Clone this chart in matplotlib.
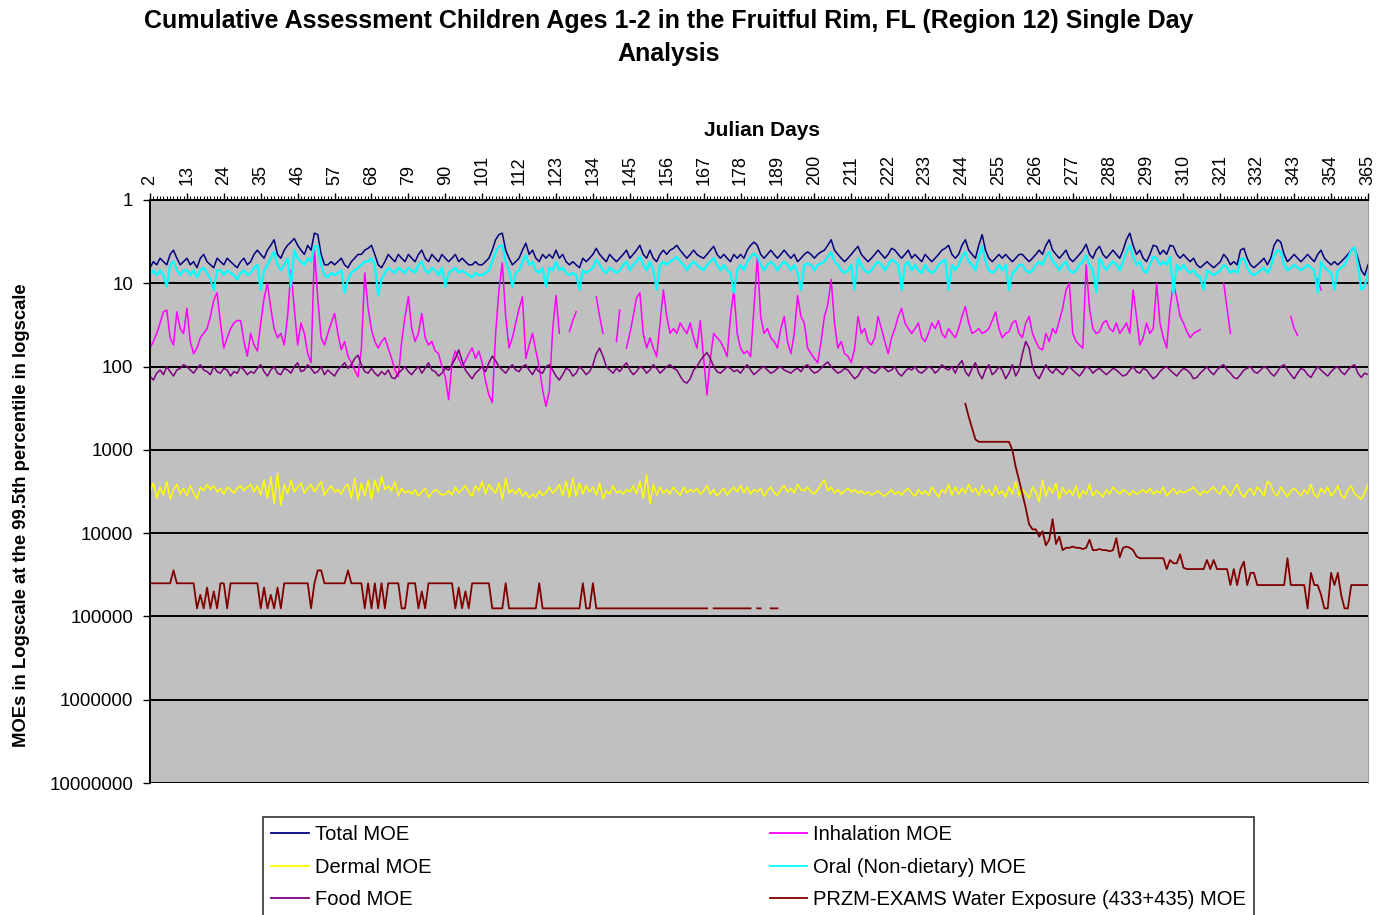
import numpy as np
import matplotlib
matplotlib.use('Agg')
import matplotlib.pyplot as plt
from matplotlib.ticker import FixedLocator, MultipleLocator, NullLocator
from matplotlib.lines import Line2D

N = None  # missing day (gap in the line)

# categories
days = list(range(2, 366))
day_ticks = list(range(2, 366, 11))
y_ticks = [1, 10, 100, 1000, 10000, 100000, 1000000, 10000000]
y_tick_labels = ['1', '10', '100', '1000', '10000', '100000', '1000000', '10000000']

# series values, one row = 11 days (2-12, 13-23, ... 354-364, 365)
total_moe = [
    6.5, 5.5, 6, 5, 5.5, 6, 4.5, 4, 5, 6, 5.5,
    5, 6, 5.5, 6.5, 5, 4.5, 5.5, 6, 6.5, 5, 5.5,
    6, 5, 5.5, 6, 6.5, 5.5, 5, 6, 5.5, 4.5, 4,
    4.5, 5, 4, 3.5, 3, 4.5, 5, 4, 3.5, 3.2, 2.9,
    3.5, 4, 4.5, 3.5, 4, 2.5, 2.6, 4.5, 6, 6, 5.5,
    6, 5.5, 5, 6, 6.5, 5.5, 5, 4.5, 4.5, 4, 3.8,
    3.5, 4.5, 6, 6.5, 5.5, 4.5, 5, 5.5, 4.5, 5, 5.5,
    4.5, 5, 5.5, 4.5, 4, 5, 5.5, 4.5, 5, 5.5, 4.5,
    5, 5.5, 5, 4.5, 5.5, 5, 5.5, 6, 6, 5.5, 6,
    6, 5.5, 5, 4, 3, 2.6, 2.5, 4, 5, 6, 5.5,
    5, 4, 3.3, 4.5, 4, 5, 5.5, 4.5, 5, 4.5, 5,
    4, 5, 4.5, 5.5, 6, 5.5, 6, 6.5, 5, 5.5, 5,
    4.5, 3.8, 4.5, 5, 5.5, 4.5, 5, 5.5, 5, 4.5, 4,
    5, 4.5, 4, 3.5, 4.5, 5, 4, 5, 5.5, 4.5, 4,
    4.5, 4, 3.8, 3.5, 4, 4.5, 5, 4.5, 4, 4.5, 4.8,
    5, 4.5, 4, 3.6, 4.5, 5, 4.5, 5, 5.5, 4.5, 5,
    4.5, 5, 4, 3.5, 3.2, 3.5, 4.5, 5, 4.5, 4, 4.5,
    5, 4.5, 4, 4.5, 5, 4.5, 5.5, 5, 4.5, 4.2, 4.5,
    5, 4.5, 4.2, 4, 3.5, 3, 4, 4.5, 5, 5.5, 5,
    4.5, 4, 3.6, 4.5, 5, 5.5, 5, 4.5, 4, 4.5, 5,
    4.5, 3.8, 4, 4.5, 5, 4.5, 4, 5, 4.5, 5, 5.5,
    4.5, 5, 5.5, 5, 4.5, 4, 3.8, 3.5, 4.5, 5, 4.5,
    3.5, 3, 4, 4.5, 5, 3.5, 2.6, 4, 5, 5.5, 5,
    4.5, 5, 4.5, 5, 5.5, 5, 4.5, 4.5, 5, 5.5, 5,
    4.5, 4, 4.5, 3.5, 3, 4, 4.5, 5, 4.5, 4, 5,
    5.5, 5, 4.5, 4, 3.4, 4.5, 5, 4, 3.6, 4.5, 5,
    4.5, 4, 4.5, 5, 4, 3, 2.5, 3.5, 4.5, 4, 5,
    5.5, 4.5, 3.5, 3.6, 4.5, 4, 4.5, 3.5, 3.6, 4.5, 5,
    4.5, 5, 5.5, 5, 6, 6.5, 6, 5.5, 6, 6.5, 6,
    5.5, 4.5, 5, 6, 5.5, 6, 4, 3.8, 5, 6, 6.5,
    6, 5.5, 5, 6, 5, 3.5, 3, 3.2, 4.5, 5.5, 5,
    4.5, 5, 5.5, 5, 4.5, 5, 5.5, 4.5, 4, 5, 5.5,
    6, 5.5, 6, 5.5, 5, 4.5, 4, 3.8, 5, 7, 8,
    6,
]

inhalation_moe = [
    60, 50, 40, 30, 22, 21, 45, 55, 22, 35, 40,
    20, 50, 70, 60, 45, 40, 35, 25, 16, 13, 30,
    60, 45, 35, 30, 28, 28, 50, 75, 40, 55, 65,
    30, 15, 10, 20, 35, 45, 40, 55, 25, 7, 20,
    55, 30, 40, 70, 90, 4, 15, 45, 55, 40, 30,
    23, 40, 63, 50, 75, 90, 110, 133, 60, 7.5, 20,
    36, 50, 60, 50, 45, 60, 80, 110, 133, 50, 25,
    14.5, 35, 50, 40, 23, 45, 55, 50, 65, 70, 100,
    133, 250, 90, 65, 80, 100, 85, 70, 60, 80, 65,
    90, 150, 220, 270, 40, 12, 5.7, 25, 60, 45, 30,
    20, 14.5, 80, 55, 40, 65, 100, 190, 300, 200, 36,
    14, 40, N, N, 38, 28, 22, N, N, N, N,
    N, 14.5, 25, 40, N, N, N, 50, 21, N, 60,
    40, 25, 15, 13, 40, 60, 45, 60, 76, 30, 12,
    25, 40, 35, 40, 30, 35, 40, 30, 45, 60, 28,
    80, 220, 80, 40, 45, 50, 60, 76, 25, 12, 40,
    60, 70, 65, 76, 20, 4.8, 25, 40, 35, 45, 50,
    60, 35, 25, 50, 70, 40, 14, 25, 30, 60, 70,
    80, 90, 50, 25, 18, 9, 30, 60, 50, 70, 75,
    90, 60, 25, 40, 35, 50, 55, 45, 25, 35, 50,
    70, 45, 35, 25, 20, 30, 35, 40, 35, 30, 45,
    50, 40, 30, 35, 28, 40, 45, 35, 40, 45, 35,
    25, 19, 30, 40, 38, 35, 40, 38, 35, 28, 22,
    35, 45, 40, 38, 30, 28, 40, 45, 30, 25, 40,
    50, 60, 63, 40, 50, 35, 40, 28, 20, 12, 10,
    40, 50, 55, 60, 6, 20, 35, 40, 38, 30, 28,
    35, 38, 30, 40, 35, 30, 40, 12, 25, 55, 45,
    30, 40, 35, 10, 30, 45, 60, 20, 10, 15, 25,
    30, 38, 45, 40, 38, 36, N, N, N, N, N,
    N, 10, 20, 40, N, N, N, N, N, N, N,
    N, N, N, N, N, N, N, N, N, N, 25,
    35, 42, N, N, N, N, N, 9, 12, N, N,
    N, N, N, N, N, N, N, N, N, N, N,
    N,
]

dermal_moe = [
    3200, 2500, 3800, 2800, 3500, 2400, 3900, 3000, 2600, 3400, 2900,
    3600, 2700, 3300, 3900, 2800, 3100, 2600, 3000, 2700, 3200, 2900,
    3400, 2800, 3000, 3300, 2900, 2700, 3100, 2800, 2600, 3200, 2700,
    3500, 2300, 3800, 2100, 4400, 1900, 4600, 2600, 3400, 2300, 3200,
    2800, 2500, 3300, 2900, 2600, 3200, 2800, 2400, 3500, 3000, 2700,
    3200, 3000, 3400, 2800, 2600, 3800, 2200, 4000, 2500, 3600, 2300,
    3900, 2300, 3200, 2100, 3000, 2700, 3100, 2400, 3600, 2900, 3300,
    3100, 3400, 3000, 3600, 3200, 2900, 3700, 3300, 3000, 3200, 3500,
    3400, 3100, 3500, 2800, 3300, 3000, 2700, 3200, 3600, 2700, 3100,
    2400, 3400, 2600, 3000, 3300, 2500, 3900, 2200, 3300, 3000, 3400,
    2900, 3600, 3200, 3800, 3400, 3700, 3100, 3500, 3300, 2800, 3300,
    3000, 2600, 3500, 2400, 3700, 2200, 3600, 2500, 3400, 2700, 3200,
    2800, 3500, 2500, 3900, 3100, 3400, 2700, 3300, 3100, 3400, 3000,
    3200, 2700, 3400, 2400, 3800, 2000, 4400, 2600, 3500, 2800, 3300,
    3000, 3400, 2800, 3200, 3500, 2800, 3300, 3000, 3200, 2900, 3400,
    3100, 2700, 3400, 3000, 3600, 3200, 2900, 3500, 3100, 2800, 3200,
    2700, 3300, 2800, 3400, 3000, 3200, 2900, 3600, 3100, 2800, 3300,
    3500, 3000, 2700, 3200, 2900, 3300, 2600, 3000, 3100, 2800, 3200,
    3400, 3000, 2600, 2300, 3100, 2800, 3300, 3000, 3400, 3100, 2900,
    3200, 3000, 3300, 3100, 3400, 3200, 3500, 3300, 3100, 3400, 3600,
    3300, 3000, 3400, 3200, 3500, 3100, 2900, 3300, 3600, 3000, 3400,
    3100, 3500, 2800, 3200, 3700, 3000, 3300, 2600, 3500, 2800, 3400,
    2900, 3300, 2600, 3200, 2900, 3500, 2700, 3300, 3000, 3600, 2700,
    3400, 3100, 3700, 2800, 3400, 2400, 3600, 3000, 3300, 3800, 2800,
    3200, 4200, 2300, 3600, 2800, 3300, 2500, 3900, 2800, 3400, 3000,
    3500, 2700, 3800, 3100, 3400, 2600, 3600, 3100, 3300, 3700, 3000,
    3400, 2800, 3100, 3400, 3000, 3200, 3500, 3100, 3400, 3200, 3000,
    3300, 2900, 3400, 3100, 3300, 2800, 3600, 3200, 2900, 3400, 3100,
    3300, 3100, 3000, 2800, 3200, 3500, 3100, 3300, 3000, 2800, 3200,
    3400, 2700, 3100, 3600, 3000, 2600, 3300, 3700, 3200, 2900, 3500,
    2800, 3100, 3600, 2400, 2600, 3300, 3600, 2800, 3200, 3700, 3100,
    2900, 3200, 3600, 3000, 3400, 2600, 3500, 3700, 2900, 3300, 2800,
    3600, 3200, 2700, 3500, 3800, 3000, 2700, 3400, 3600, 3900, 3300,
    2600,
]

oral_moe = [
    8, 7, 8, 7, 8, 11, 6, 5.5, 7, 8, 7,
    7, 8, 7, 8.5, 7, 6.5, 7.5, 9, 12, 7, 7,
    8, 7, 7.5, 8, 9, 7.5, 7, 8, 7.5, 6.5, 6,
    12, 7, 6, 5, 4.2, 6, 7, 6, 5, 11, 4,
    5, 5.5, 6, 5, 5.5, 3.6, 3.6, 6, 8, 8.5, 7.5,
    8, 7.5, 7, 13, 9, 7.5, 7, 6.5, 6, 5.5, 5.5,
    5, 6, 14, 9, 7.5, 6.5, 7, 7.5, 6.5, 7, 7.5,
    6.5, 7, 7.5, 6, 5.5, 7, 7.5, 6.5, 7, 8, 6.5,
    11, 7.5, 7, 6.5, 7.5, 7, 7.5, 8, 8.5, 7.5, 8,
    8, 7.5, 7, 5.5, 4.2, 3.6, 3.5, 5.5, 7, 11, 7.5,
    7, 5.5, 4.6, 6, 5.5, 7, 7.5, 6.5, 11, 6.5, 7,
    5.5, 7, 6.5, 7.5, 8, 7.5, 8, 12, 7, 7.5, 7,
    6.5, 5.2, 6, 7, 7.5, 6.5, 7, 7.5, 7, 6, 5.5,
    7, 6, 5.5, 4.8, 6, 7, 5.5, 7, 12, 6, 5.5,
    6, 5.5, 5.2, 4.8, 5.5, 6, 7, 6, 5.5, 6, 6.5,
    7, 6, 5.5, 5, 6, 7, 6, 7, 7.5, 13, 7,
    6, 7, 5.5, 4.8, 4.4, 4.8, 6, 7, 6, 5.5, 6,
    7, 6, 5.5, 6, 7, 6, 7.5, 12, 6, 5.8, 6,
    7, 6, 5.8, 5.5, 4.8, 4.2, 5.5, 6, 7, 7.5, 7,
    6, 12, 5, 6, 7, 7.5, 7, 6, 5.5, 6, 7,
    6, 5.2, 5.5, 6, 12, 6, 5.5, 7, 6, 7, 7.5,
    6, 7, 7.5, 7, 6, 5.5, 5.2, 12, 6, 7, 6,
    4.8, 4.2, 5.5, 6, 7, 4.8, 3.6, 5.5, 7, 7.5, 7,
    6, 7, 6, 12, 7.5, 7, 6, 6, 7, 7.5, 7,
    6, 5.5, 6, 4.8, 4.2, 5.5, 6, 7, 6, 5.5, 7,
    7.5, 7, 6, 5.5, 4.6, 6, 7, 13, 5, 6, 7,
    6, 5.5, 6, 7, 5.5, 4.2, 3.5, 4.8, 6, 5.5, 7,
    7.5, 6, 4.8, 5, 6, 5.5, 6, 4.8, 13, 6, 7,
    6, 7, 7.5, 7, 8, 8.5, 12, 7, 7.5, 8, 7.5,
    7, 6, 6.5, 7.5, 7, 7.5, 5.2, 5, 6.5, 7.5, 8,
    7.5, 7, 6.5, 7.5, 6.5, 4.6, 4, 4.2, 6, 7, 6.5,
    6, 6.5, 7, 6.5, 6, 6.5, 7, 13, 5.5, 6.5, 7,
    7.5, 12, 7, 6.5, 6, 5, 4, 3.7, 6, 12, 11,
    7.5,
]

food_moe = [
    130, 145, 120, 110, 125, 100, 115, 130, 110, 105, 95,
    100, 110, 120, 105, 95, 110, 115, 125, 100, 115, 120,
    105, 110, 130, 115, 120, 100, 110, 125, 115, 120, 105,
    95, 115, 130, 110, 100, 120, 125, 105, 110, 120, 100,
    90, 115, 110, 95, 105, 120, 115, 100, 125, 110, 120,
    130, 110, 100, 90, 105, 95, 80, 73, 95, 115, 120,
    105, 120, 130, 115, 125, 110, 135, 140, 120, 110, 100,
    115, 125, 110, 100, 120, 105, 90, 110, 115, 130, 120,
    105, 110, 95, 80, 63, 85, 110, 125, 140, 120, 110,
    100, 115, 90, 75, 85, 100, 110, 120, 105, 95, 110,
    115, 100, 95, 110, 125, 105, 115, 120, 100, 95, 110,
    130, 145, 125, 105, 110, 130, 120, 100, 110, 125, 115,
    95, 70, 60, 75, 100, 110, 120, 105, 115, 100, 90,
    110, 125, 115, 100, 105, 120, 110, 95, 105, 120, 110,
    100, 95, 105, 110, 130, 150, 158, 140, 110, 100, 85,
    75, 68, 80, 100, 115, 120, 110, 100, 105, 115, 110,
    120, 105, 95, 110, 125, 115, 105, 100, 110, 120, 115,
    105, 100, 110, 115, 120, 110, 105, 115, 100, 95, 110,
    120, 115, 105, 95, 88, 100, 110, 120, 115, 105, 110,
    125, 140, 130, 110, 100, 105, 115, 120, 110, 100, 105,
    115, 110, 100, 120, 130, 115, 105, 110, 100, 115, 120,
    110, 100, 105, 120, 110, 95, 105, 110, 100, 120, 95,
    85, 115, 130, 105, 90, 120, 140, 110, 95, 125, 115,
    100, 110, 140, 120, 95, 130, 110, 70, 50, 60, 100,
    125, 140, 115, 95, 110, 120, 105, 115, 125, 110, 100,
    110, 120, 130, 115, 100, 105, 120, 110, 105, 115, 125,
    115, 105, 110, 120, 130, 125, 110, 100, 115, 120, 105,
    110, 125, 140, 130, 115, 105, 100, 110, 120, 130, 115,
    105, 110, 120, 140, 135, 120, 110, 100, 115, 125, 110,
    100, 95, 110, 120, 135, 140, 125, 110, 105, 100, 115,
    120, 110, 100, 105, 120, 130, 115, 100, 95, 110, 125,
    140, 120, 105, 110, 125, 135, 115, 100, 110, 120, 130,
    115, 105, 100, 115, 125, 110, 100, 95, 120, 135, 120,
    125,
]

przm_moe = [
    40000, 40000, 40000, 40000, 40000, 40000, 40000, 28000, 40000, 40000, 40000,
    40000, 40000, 40000, 80000, 55000, 80000, 45000, 80000, 50000, 80000, 40000,
    40000, 80000, 40000, 40000, 40000, 40000, 40000, 40000, 40000, 40000, 40000,
    80000, 45000, 80000, 55000, 80000, 45000, 80000, 40000, 40000, 40000, 40000,
    40000, 40000, 40000, 40000, 80000, 40000, 28000, 28000, 40000, 40000, 40000,
    40000, 40000, 40000, 40000, 28000, 40000, 40000, 40000, 40000, 80000, 40000,
    80000, 40000, 80000, 40000, 80000, 40000, 40000, 40000, 40000, 80000, 80000,
    40000, 40000, 40000, 80000, 50000, 80000, 40000, 40000, 40000, 40000, 40000,
    40000, 40000, 40000, 80000, 45000, 80000, 50000, 80000, 40000, 40000, 40000,
    40000, 40000, 40000, 80000, 80000, 80000, 80000, 40000, 80000, 80000, 80000,
    80000, 80000, 80000, 80000, 80000, 80000, 40000, 80000, 80000, 80000, 80000,
    80000, 80000, 80000, 80000, 80000, 80000, 80000, 80000, 40000, 80000, 80000,
    40000, 80000, 80000, 80000, 80000, 80000, 80000, 80000, 80000, 80000, 80000,
    80000, 80000, 80000, 80000, 80000, 80000, 80000, 80000, 80000, 80000, 80000,
    80000, 80000, 80000, 80000, 80000, 80000, 80000, 80000, 80000, 80000, 80000,
    80000, 80000, N, 80000, 80000, 80000, 80000, 80000, 80000, 80000, 80000,
    80000, 80000, 80000, 80000, N, 80000, 80000, N, N, 80000, 80000,
    80000, N, N, N, N, N, N, N, N, N, N,
    N, N, N, N, N, N, N, N, N, N, N,
    N, N, N, N, N, N, N, N, N, N, N,
    N, N, N, N, N, N, N, N, N, N, N,
    N, N, N, N, N, N, N, N, N, N, N,
    N, 280, 400, 550, 750, 800, 800, 800, 800, 800, 800,
    800, 800, 800, 800, 1000, 1600, 2300, 3400, 5000, 7800, 9000,
    9000, 11000, 9500, 14000, 12000, 6800, 13500, 11000, 16000, 15000, 15000,
    14500, 15000, 15000, 15500, 15000, 12000, 16000, 16000, 15500, 16000, 16000,
    16500, 16000, 11500, 19500, 15000, 14500, 15000, 16000, 19000, 20000, 20000,
    20000, 20000, 20000, 20000, 20000, 20000, 27000, 21000, 23000, 23000, 18000,
    26000, 27000, 27000, 27000, 27000, 27000, 27000, 21000, 27000, 21000, 27000,
    27000, 27000, 27000, 42000, 27000, 42000, 27000, 22000, 42000, 30000, 30000,
    42000, 42000, 42000, 42000, 42000, 42000, 42000, 42000, 42000, 20000, 42000,
    42000, 42000, 42000, 42000, 80000, 30000, 42000, 42000, 55000, 80000, 80000,
    30000, 42000, 30000, 55000, 80000, 80000, 42000, 42000, 42000, 42000, 42000,
    42000,
]

for s in (total_moe, inhalation_moe, dermal_moe, oral_moe, food_moe, przm_moe):
    assert len(s) == len(days), len(s)

plt.rcParams['font.family'] = ['Liberation Sans', 'DejaVu Sans']

W, H = 1378, 915
fig = plt.figure(figsize=(W / 100, H / 100), dpi=100)
ax = fig.add_axes([150 / W, 1 - 783 / H, (1368 - 150) / W, (783 - 200) / H])
ax.set_facecolor('#C0C0C0')

# drawing order as in the original workbook (Excel series order)
series = [
    (total_moe, 'Total MOE', '#000080', 1.1),
    (inhalation_moe, 'Inhalation MOE', '#FF00FF', 1.1),
    (dermal_moe, 'Dermal MOE', '#FFFF00', 1.1),
    (oral_moe, 'Oral (Non-dietary) MOE', '#00FFFF', 1.6),
    (food_moe, 'Food MOE', '#800080', 1.1),
    (przm_moe, 'PRZM-EXAMS Water Exposure (433+435) MOE', '#800000', 1.3),
]
handles = {}
for vals, name, col, lw in series:
    y = np.array(vals, dtype=float)
    ax.plot(days, y, color=col, lw=lw, label=name)
    handles[name] = Line2D([], [], color=col, lw=1.3)

ax.set_yscale('log')
ax.set_ylim(1e7, 1)
ax.yaxis.set_major_locator(FixedLocator(y_ticks))
ax.yaxis.set_minor_locator(NullLocator())
ax.set_yticklabels(y_tick_labels)
ax.yaxis.grid(True, color='black', lw=1.4)
ax.set_axisbelow(True)

ax.set_xlim(2, 365)
ax.xaxis.tick_top()
ax.set_xticks(day_ticks)
ax.set_xticklabels([str(d) for d in day_ticks], rotation=90)
ax.xaxis.set_minor_locator(MultipleLocator(1))
ax.tick_params(axis='x', which='major', direction='out', length=5, width=1, pad=6, labelsize=13)
ax.tick_params(axis='x', which='minor', direction='out', length=3, width=0.8, top=True, bottom=False)
ax.tick_params(axis='y', which='major', direction='out', length=5, width=1, pad=7, labelsize=13.5)

for sp in ('top', 'left'):
    ax.spines[sp].set_color('black')
    ax.spines[sp].set_linewidth(1.4)
ax.spines['right'].set_color('#A0A0A0')
ax.spines['bottom'].set_visible(False)

fig.text(669 / W, 1 - 9 / H,
         'Cumulative Assessment Children Ages 1-2 in the Fruitful Rim, FL (Region 12) Single Day\nAnalysis',
         ha='center', va='top', fontsize=18, fontweight='bold', linespacing=1.45)
fig.text(762 / W, 1 - 131 / H, 'Julian Days', ha='center', va='center',
         fontsize=15, fontweight='bold')
fig.text(22 / W, 1 - 515 / H, 'MOEs in Logscale at the 99.5th percentile in logscale',
         ha='center', va='center', rotation=90, fontsize=13.3, fontweight='bold')

order = ['Total MOE', 'Dermal MOE', 'Food MOE',
         'Inhalation MOE', 'Oral (Non-dietary) MOE', 'PRZM-EXAMS Water Exposure (433+435) MOE']
leg = fig.legend([handles[k] for k in order], order, ncol=2, loc='upper left',
                 bbox_to_anchor=(263 / W, 1 - 817 / H), borderaxespad=0,
                 fontsize=14.5, frameon=True, fancybox=False, edgecolor='black',
                 handlelength=1.85, handletextpad=0.3, labelspacing=0.65,
                 columnspacing=16.8, borderpad=0.42)
leg.get_frame().set_linewidth(1.2)

fig.savefig('out.png', dpi=100, facecolor='white')
